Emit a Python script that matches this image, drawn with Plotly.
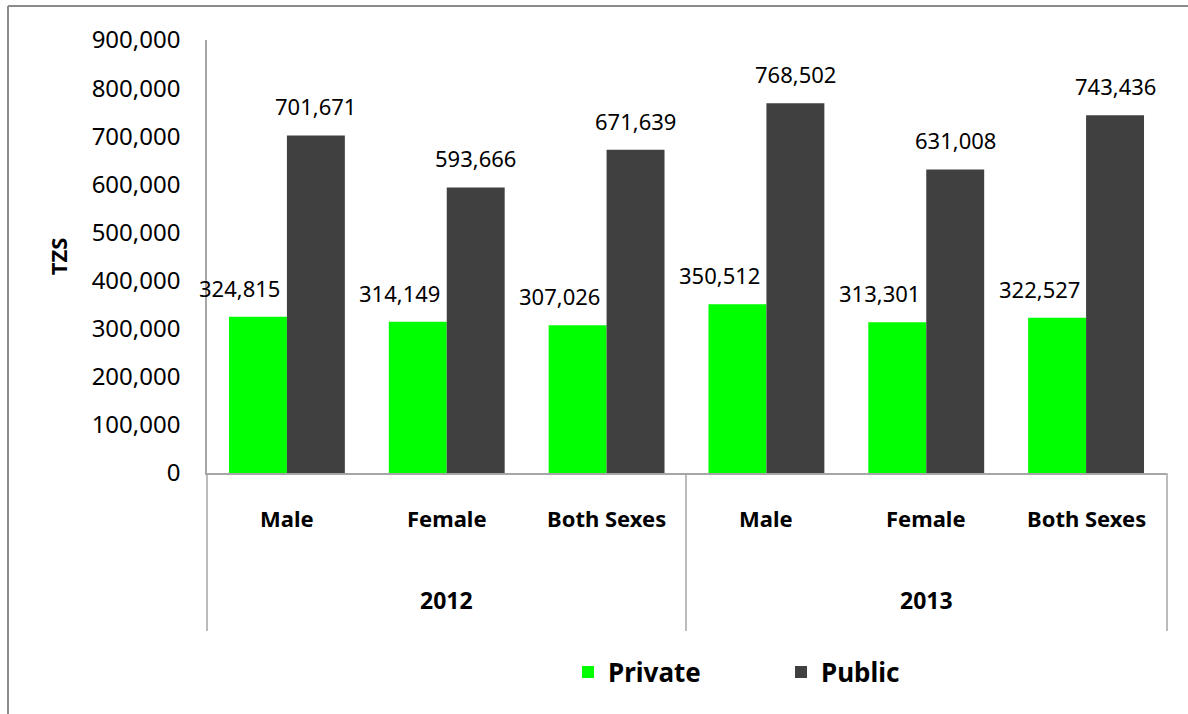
import plotly.graph_objects as go

years = ["2012", "2013"]
sexes = ["Male", "Female", "Both Sexes"]
private_vals = [324815, 314149, 307026, 350512, 313301, 322527]
public_vals = [701671, 593666, 671639, 768502, 631008, 743436]
y_ticks = [0, 100000, 200000, 300000, 400000, 500000, 600000, 700000, 800000, 900000]

W, H = 1188, 714
L, R, T, B = 207, 1166, 40, 473
pw, ph = R - L, B - T

def px(x):
    return (x - L) / pw

def py(y):
    return (B - y) / ph

cats = [f"{y} {s}" for y in years for s in sexes]
xpos = list(range(len(cats)))

GREEN = "#00FF00"
DARK = "#404040"
FONT = "Noto Sans"
AXC = "#A6A6A6"

fig = go.Figure()
fig.add_trace(go.Bar(x=xpos, y=private_vals, name="Private", marker=dict(color=GREEN, line=dict(width=0))))
fig.add_trace(go.Bar(x=xpos, y=public_vals, name="Public", marker=dict(color=DARK, line=dict(width=0))))

annotations = []
for i, v in enumerate(private_vals):
    annotations.append(dict(x=i, y=v, xref="x", yref="y", text=f"{v:,}", showarrow=False,
                            xanchor="center", yanchor="bottom", xshift=-29 - 18, yshift=12,
                            font=dict(family=FONT, size=22, color="#000")))
for i, v in enumerate(public_vals):
    annotations.append(dict(x=i, y=v, xref="x", yref="y", text=f"{v:,}", showarrow=False,
                            xanchor="center", yanchor="bottom", xshift=29, yshift=12,
                            font=dict(family=FONT, size=22, color="#000")))

for i in xpos:
    annotations.append(dict(x=i, y=py(518), xref="x", yref="paper", text=f"<b>{sexes[i % 3]}</b>",
                            showarrow=False, xanchor="center", yanchor="middle",
                            font=dict(family=FONT, size=22, color="#000")))
for j, yr in enumerate(years):
    annotations.append(dict(x=3 * j + 1, y=py(600), xref="x", yref="paper", text=f"<b>{yr}</b>",
                            showarrow=False, xanchor="center", yanchor="middle",
                            font=dict(family=FONT, size=23, color="#000")))

shapes = []
for xv in [L, 686, R + 1]:
    shapes.append(dict(type="line", xref="paper", yref="paper", x0=px(xv), x1=px(xv),
                       y0=py(B), y1=py(631), line=dict(color=AXC, width=1.5)))
# outer chart border
shapes.append(dict(type="line", xref="paper", yref="paper", x0=px(8), x1=px(1200),
                   y0=py(6), y1=py(6), line=dict(color="#8C8C8C", width=2)))
shapes.append(dict(type="line", xref="paper", yref="paper", x0=px(8), x1=px(8),
                   y0=py(6), y1=py(730), line=dict(color="#8C8C8C", width=2)))

fig.update_layout(
    width=W, height=H,
    margin=dict(l=L, r=W - R, t=T, b=H - B),
    paper_bgcolor="white", plot_bgcolor="white",
    barmode="group", bargap=0.275, bargroupgap=0,
    font=dict(family=FONT, color="#000"),
    showlegend=True,
    legend=dict(orientation="h", x=px(568), xanchor="left", y=py(672), yanchor="middle",
                font=dict(family=FONT, size=26, color="#000", weight="bold"),
                entrywidth=168, entrywidthmode="pixels", itemclick=False),
    annotations=annotations,
    shapes=shapes,
    xaxis=dict(range=[-0.5, len(cats) - 0.5], showticklabels=False, showgrid=False, zeroline=False,
               showline=True, linecolor=AXC, linewidth=1.5, ticks="", fixedrange=True),
    yaxis=dict(range=[0, 900000], tickvals=y_ticks, tickformat=",", showgrid=False, zeroline=False,
               showline=True, linecolor=AXC, linewidth=1.5, ticks="", ticklabelstandoff=20,
               tickfont=dict(family=FONT, size=24, color="#000"),
               title=dict(text="<b>TZS</b>", standoff=18, font=dict(family=FONT, size=22, color="#000"))),
)

fig.write_html("out.html")
